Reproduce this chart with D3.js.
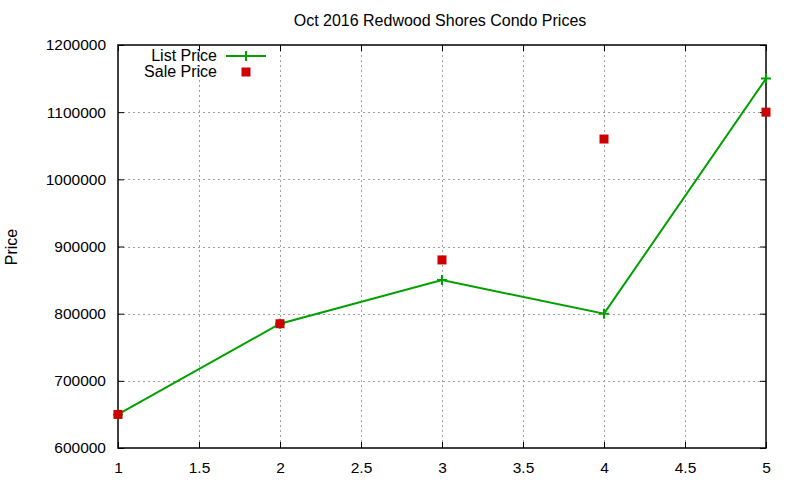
<!DOCTYPE html>
<html>
<head>
<meta charset="utf-8">
<script src="https://cdn.jsdelivr.net/npm/d3@7"></script>
<style>
  body { margin: 0; background: #fff; }
  svg { font-family: "Liberation Sans", Arial, sans-serif; }
</style>
</head>
<body>
<div id="chart"></div>
<script>
// chart data
var xValues = [1, 2, 3, 4, 5];
var listPrice = [650000, 785000, 850000, 800000, 1150000];
var salePrice = [650000, 785000, 880000, 1060000, 1100000];
var xTicks = [1, 1.5, 2, 2.5, 3, 3.5, 4, 4.5, 5];
var yTicks = [600000, 700000, 800000, 900000, 1000000, 1100000, 1200000];

const _width = 800;
const _height = 480;
const _left = 118;
const _right = 766;
const _top = 45;
const _bottom = 448;
const _lineColor = "#00a000";
const _pointColor = "#cc0000";

var svg = d3.select("#chart")
    .append("svg")
    .attr("width", _width)
    .attr("height", _height);

var x = d3.scaleLinear().domain([1, 5]).range([_left, _right]);
var y = d3.scaleLinear().domain([600000, 1200000]).range([_bottom, _top]);

// grid
var grid = svg.append("g")
    .attr("stroke", "#a0a0a0")
    .attr("stroke-width", 1)
    .attr("stroke-dasharray", "2,3");
grid.selectAll(".gx")
    .data(xTicks.slice(1, -1))
    .join("line")
    .attr("x1", d => Math.round(x(d)) + 0.5)
    .attr("x2", d => Math.round(x(d)) + 0.5)
    .attr("y1", _top)
    .attr("y2", _bottom);
grid.selectAll(".gy")
    .data(yTicks.slice(1, -1))
    .join("line")
    .attr("y1", d => Math.round(y(d)) + 0.5)
    .attr("y2", d => Math.round(y(d)) + 0.5)
    .attr("x1", _left)
    .attr("x2", _right);

// axes (gnuplot style: inward ticks, mirrored)
var xAxis = d3.axisBottom(x).tickValues(xTicks).tickSize(-6).tickPadding(14).tickFormat(d3.format("~g"));
var xAxisTop = d3.axisTop(x).tickValues(xTicks).tickSize(-6).tickFormat("");
var yAxis = d3.axisLeft(y).tickValues(yTicks).tickSize(-6).tickPadding(12).tickFormat(d3.format("d"));
var yAxisRight = d3.axisRight(y).tickValues(yTicks).tickSize(-6).tickFormat("");

function styleAxis(g) {
    g.select(".domain").remove();
    g.selectAll(".tick line").attr("stroke", "#000");
    g.selectAll(".tick text").attr("fill", "#000").style("font-size", "15.5px");
}

svg.append("g").attr("transform", "translate(0," + _bottom + ")").call(xAxis).call(styleAxis);
svg.append("g").attr("transform", "translate(0," + _top + ")").call(xAxisTop).call(styleAxis);
svg.append("g").attr("transform", "translate(" + _left + ",0)").call(yAxis).call(styleAxis);
svg.append("g").attr("transform", "translate(" + _right + ",0)").call(yAxisRight).call(styleAxis);

// border
svg.append("rect")
    .attr("x", _left)
    .attr("y", _top)
    .attr("width", _right - _left)
    .attr("height", _bottom - _top)
    .attr("fill", "none")
    .attr("stroke", "#000")
    .attr("stroke-width", 1.5);

// list price line
var line = d3.line()
    .x((d, i) => x(xValues[i]))
    .y(d => y(d));

svg.append("path")
    .datum(listPrice)
    .attr("fill", "none")
    .attr("stroke", _lineColor)
    .attr("stroke-width", 2)
    .attr("d", line);

function plus(g, cx, cy, s) {
    g.append("path")
        .attr("d", "M" + (cx - s) + "," + cy + "H" + (cx + s) + "M" + cx + "," + (cy - s) + "V" + (cy + s))
        .attr("stroke", _lineColor)
        .attr("stroke-width", 2)
        .attr("fill", "none");
}

var marks = svg.append("g");
listPrice.forEach(function (d, i) {
    plus(marks, x(xValues[i]), y(d), 5);
});

// sale price points
svg.append("g")
    .selectAll("rect")
    .data(salePrice)
    .join("rect")
    .attr("x", (d, i) => x(xValues[i]) - 4.5)
    .attr("y", d => y(d) - 4.5)
    .attr("width", 9)
    .attr("height", 9)
    .attr("fill", _pointColor);

// legend
svg.append("text")
    .attr("x", 217)
    .attr("y", 61)
    .attr("text-anchor", "end")
    .style("font-size", "16px")
    .text("List Price");
svg.append("line")
    .attr("x1", 226).attr("x2", 266)
    .attr("y1", 56).attr("y2", 56)
    .attr("stroke", _lineColor)
    .attr("stroke-width", 2);
plus(svg, 246, 56, 5);

svg.append("text")
    .attr("x", 217)
    .attr("y", 77)
    .attr("text-anchor", "end")
    .style("font-size", "16px")
    .text("Sale Price");
svg.append("rect")
    .attr("x", 241.5).attr("y", 67.5)
    .attr("width", 9).attr("height", 9)
    .attr("fill", _pointColor);

// title
svg.append("text")
    .attr("x", 440)
    .attr("y", 26)
    .attr("text-anchor", "middle")
    .style("font-size", "16px")
    .text("Oct 2016 Redwood Shores Condo Prices");

// y-axis label
svg.append("text")
    .attr("transform", "translate(17,247) rotate(-90)")
    .attr("text-anchor", "middle")
    .style("font-size", "16px")
    .text("Price");
</script>
</body>
</html>
